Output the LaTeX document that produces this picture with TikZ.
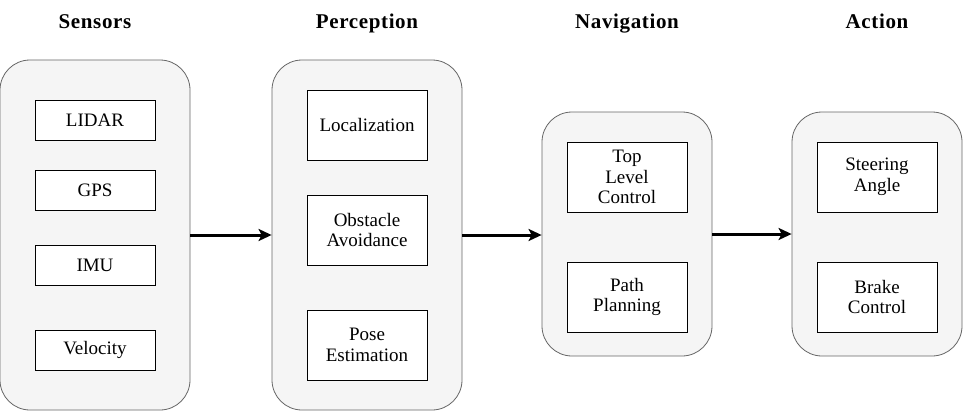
\documentclass[tikz,border=0pt]{standalone}
\usepackage{fontspec}
\setmainfont{Liberation Serif}
\newfontfamily\bodyfont{Liberation Serif}
\newfontfamily\titlefont[LetterSpace=3]{Liberation Serif}
\usetikzlibrary{arrows.meta}
\begin{document}
\begin{tikzpicture}[x=1pt,y=-1pt,
  group/.style={draw=black!60,fill=black!4,rounded corners=30pt,line width=0.8pt},
  item/.style={draw=black,fill=white,line width=0.8pt,minimum width=120pt,align=center,font=\bodyfont\fontsize{19}{20.5}\selectfont,inner sep=0pt},
  title/.style={font=\titlefont\fontsize{21}{22}\selectfont\bfseries,anchor=base},
  flow/.style={line width=3pt,-{Stealth[length=13pt,width=12pt,inset=3pt]}}]
\useasboundingbox (0,0) rectangle (963,412);
% containers
\node[group,minimum width=190pt,minimum height=350pt,inner sep=0pt] (sens) at (95,235) {};
\node[group,minimum width=190pt,minimum height=350pt,inner sep=0pt] (perc) at (367,235) {};
\node[group,minimum width=170pt,minimum height=244pt,inner sep=0pt] (nav) at (627,234) {};
\node[group,minimum width=170pt,minimum height=244pt,inner sep=0pt] (act) at (877,234) {};
% titles
\node[title] (t1) at (95,28.5) {Sensors};
\node[title] (t2) at (367,28.5) {Perception};
\node[title] (t3) at (627,28.5) {Navigation};
\node[title] (t4) at (877,28.5) {Action};
% sensors
\node[item,minimum height=40pt] (lidar) at (95,120) {LIDAR};
\node[item,minimum height=40pt] (gps) at (95,190) {GPS};
\node[item,minimum height=40pt] (imu) at (95,265) {IMU};
\node[item,minimum height=40pt] (vel) at (95,350) {Velocity};
% perception
\node[item,minimum height=70pt] (loc) at (367,125) {Localization};
\node[item,minimum height=70pt] (obs) at (367,230) {Obstacle\\Avoidance};
\node[item,minimum height=70pt] (pose) at (367,345) {Pose\\Estimation};
% navigation
\node[item,minimum height=70pt] (top) at (627,177) {Top\\Level\\Control};
\node[item,minimum height=70pt] (path) at (627,297) {Path\\Planning};
% action
\node[item,minimum height=70pt] (steer) at (877,177) {Steering\\Angle};
\node[item,minimum height=70pt] (brake) at (877,297) {Brake\\Control};
% arrows
\draw[flow] (sens.east) -- (perc.west);
\draw[flow] (perc.east) -- (nav.west |- perc.east);
\draw[flow] (nav.east) -- (act.west);
\end{tikzpicture}
\end{document}
